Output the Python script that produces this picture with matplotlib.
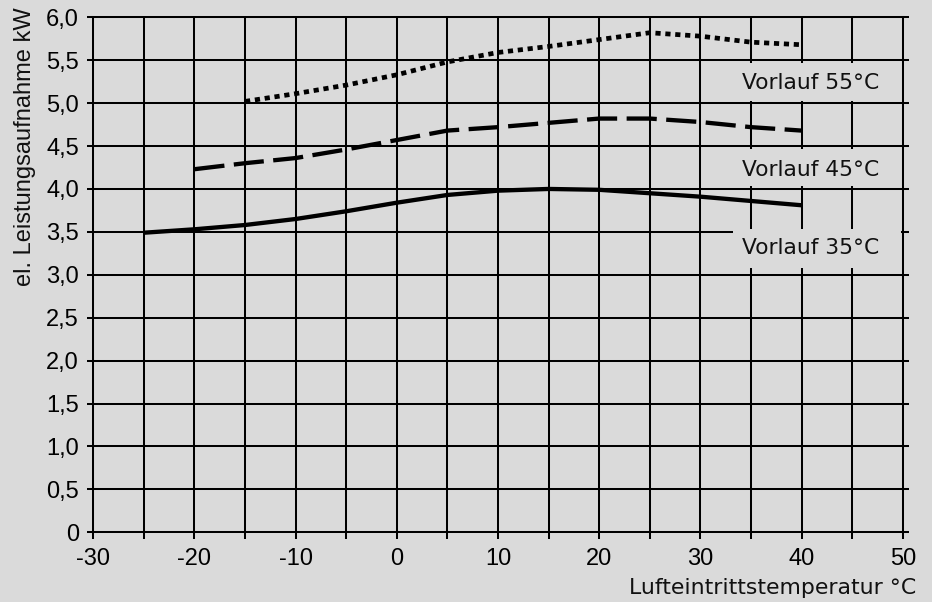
import matplotlib.pyplot as plt
from matplotlib.patches import Rectangle

# Lufteintrittstemperatur (°C)
temp_35 = [-25, -20, -15, -10, -5, 0, 5, 10, 15, 20, 25, 30, 35, 40]
temp_45 = [-20, -15, -10, -5, 0, 5, 10, 15, 20, 25, 30, 35, 40]
temp_55 = [-15, -10, -5, 0, 5, 10, 15, 20, 25, 30, 35, 40]

# el. Leistungsaufnahme (kW)
power_35 = [3.49, 3.53, 3.58, 3.65, 3.74, 3.84, 3.93, 3.98, 4.00, 3.99, 3.95, 3.91, 3.86, 3.81]
power_45 = [4.23, 4.30, 4.36, 4.46, 4.57, 4.68, 4.72, 4.77, 4.82, 4.82, 4.78, 4.72, 4.68]
power_55 = [5.02, 5.11, 5.21, 5.33, 5.48, 5.59, 5.66, 5.74, 5.82, 5.78, 5.71, 5.68]

labels = ['Vorlauf 55°C', 'Vorlauf 45°C', 'Vorlauf 35°C']

xticks = list(range(-30, 51, 5))
xtick_labels = [str(t) if t % 10 == 0 else '' for t in xticks]
yticks = [i * 0.5 for i in range(13)]
ytick_labels = ['0'] + [f'{v:.1f}'.replace('.', ',') for v in yticks[1:]]

bg = '#dadada'
ink = '#000000'

fig = plt.figure(figsize=(9.32, 6.02), dpi=100, facecolor=bg)
ax = fig.add_axes([0.1001, 0.1158, 0.8685, 0.8555], facecolor=bg)

ax.plot(temp_35, power_35, color=ink, lw=3.1, solid_capstyle='butt', zorder=3)
ax.plot(temp_45, power_45, color=ink, lw=3.1, linestyle=(0, (7, 2.2)),
        dash_capstyle='butt', zorder=3)
ax.plot(temp_55, power_55, color=ink, lw=3.4, linestyle=(0, (1.1, 1.0)),
        dash_capstyle='butt', zorder=3)

ax.set_xlim(-30, 50)
ax.set_ylim(0, 6)
ax.set_xticks(xticks)
ax.set_xticklabels(xtick_labels)
ax.set_yticks(yticks)
ax.set_yticklabels(ytick_labels)
ax.set_axisbelow(True)
ax.grid(True, color=ink, lw=1.45)

for s in ax.spines.values():
    s.set_color(ink)
    s.set_linewidth(1.45)

ax.tick_params(axis='x', direction='out', length=5, width=1.45, color=ink,
               pad=6, labelsize=17)
ax.tick_params(axis='y', direction='out', length=4.3, width=1.45, color=ink,
               pad=6, labelsize=17, right=True)
for lab in ax.get_xticklabels() + ax.get_yticklabels():
    lab.set_fontfamily('Liberation Sans')

# Beschriftungen der Kurven mit Hintergrundfeld
label_y = [5.23, 4.22, 3.31]
box_y = [(5.03, 5.47), (4.03, 4.47), (3.08, 3.53)]
for text, ty, (y0, y1) in zip(labels, label_y, box_y):
    ax.add_patch(Rectangle((33.2, y0), 49.85 - 33.2, y1 - y0, facecolor=bg,
                           edgecolor='none', zorder=2))
    ax.text(40.94, ty, text, ha='center', va='center', fontsize=15.7,
            family='DejaVu Sans', color='#111111', zorder=4)

fig.text(0.983, 0.0133, 'Lufteintrittstemperatur °C', ha='right', va='baseline',
         fontsize=15.8, family='DejaVu Sans', color='#111111')
fig.text(0.0265, 0.988, 'el. Leistungsaufnahme kW', rotation=90, ha='center', va='top',
         fontsize=17, family='Liberation Sans', color='#111111')

fig.savefig('out.png', dpi=100, facecolor=bg)
